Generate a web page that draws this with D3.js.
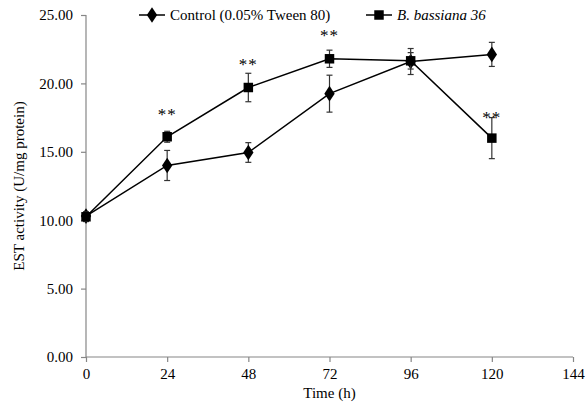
<!DOCTYPE html>
<html>
<head>
<meta charset="utf-8">
<script src="https://cdn.jsdelivr.net/npm/d3@7"></script>
<style>
  body { margin: 0; background: #fff; }
</style>
</head>
<body>
<svg id="chart" width="587" height="406"></svg>
<script>
// time points (h)
const hours = [0, 24, 48, 72, 96, 120];
const controlMean = [10.3, 14.0, 14.95, 19.25, 21.6, 22.12];
const controlErr = [0.3, 1.1, 0.72, 1.35, 0.95, 0.88];
const bassianaMean = [10.25, 16.1, 19.7, 21.8, 21.65, 16.0];
const bassianaErr = [0.35, 0.4, 1.04, 0.63, 0.6, 1.5];
// significance marks: hour and value at which "**" sits
const sigHours = [24, 48, 72, 120];
const sigValues = [17.3, 21.0, 23.1, 17.1];
const xTicks = [0, 24, 48, 72, 96, 120, 144];
const yTicks = [0, 5, 10, 15, 20, 25];

const svg = d3.select('#chart');
const margin = { left: 86, right: 14, top: 15, bottom: 49 };
const width = 587, height = 406;
const serif = 'Liberation Serif, DejaVu Serif, serif';

const x = d3.scaleLinear().domain([0, 144]).range([margin.left, width - margin.right]);
const y = d3.scaleLinear().domain([0, 25]).range([height - margin.bottom, margin.top]);

const axisColor = '#868686';

// axes
const xAxis = svg.append('g')
  .attr('transform', `translate(0,${y(0)})`)
  .call(d3.axisBottom(x).tickValues(xTicks).tickSize(5).tickPadding(6));
const yAxis = svg.append('g')
  .attr('transform', `translate(${x(0)},0)`)
  .call(d3.axisLeft(y).tickValues(yTicks).tickFormat(d3.format('.2f')).tickSize(5).tickPadding(8));

[xAxis, yAxis].forEach(a => {
  a.attr('font-family', serif).attr('font-size', 15);
  a.select('.domain').attr('stroke', axisColor).attr('stroke-width', 1.2);
  a.selectAll('.tick line').attr('stroke', axisColor).attr('stroke-width', 1.2);
  a.selectAll('.tick text').attr('fill', '#000');
});
yAxis.select('.domain').attr('d', `M0,${y(25)}V${y(0)}`);
xAxis.select('.domain').attr('d', `M${x(0)},0H${x(144)}`);

// axis titles
svg.append('text')
  .attr('x', (x(0) + x(144)) / 2).attr('y', 398)
  .attr('text-anchor', 'middle').attr('font-size', 15).attr('font-family', serif)
  .text('Time (h)');
svg.append('text')
  .attr('transform', `translate(24,${(y(0) + y(25)) / 2}) rotate(-90)`)
  .attr('text-anchor', 'middle').attr('font-size', 15).attr('font-family', serif)
  .text('EST activity (U/mg protein)');

const line = d3.line().x(d => x(d.h)).y(d => y(d.v));

function series(means, errs, shape) {
  const pts = hours.map((h, i) => ({ h, v: means[i], e: errs[i] }));
  const g = svg.append('g');
  // error bars
  const eb = g.append('g').attr('stroke', '#333').attr('stroke-width', 1.2);
  pts.forEach(p => {
    eb.append('line').attr('x1', x(p.h)).attr('x2', x(p.h)).attr('y1', y(p.v - p.e)).attr('y2', y(p.v + p.e));
    eb.append('line').attr('x1', x(p.h) - 3).attr('x2', x(p.h) + 3).attr('y1', y(p.v - p.e)).attr('y2', y(p.v - p.e));
    eb.append('line').attr('x1', x(p.h) - 3).attr('x2', x(p.h) + 3).attr('y1', y(p.v + p.e)).attr('y2', y(p.v + p.e));
  });
  g.append('path').datum(pts).attr('d', line)
    .attr('fill', 'none').attr('stroke', '#000').attr('stroke-width', 1.5);
  const sym = d3.symbol().type(shape).size(shape === d3.symbolDiamond ? 70 : 90);
  g.selectAll('path.m').data(pts).enter().append('path')
    .attr('class', 'm')
    .attr('transform', d => `translate(${x(d.h)},${y(d.v)})` + (shape === d3.symbolDiamond ? ' scale(1.15,1)' : ''))
    .attr('d', sym).attr('fill', '#000');
}

series(controlMean, controlErr, d3.symbolDiamond);
series(bassianaMean, bassianaErr, d3.symbolSquare);

// significance asterisks
svg.append('g').selectAll('text').data(sigHours).enter().append('text')
  .attr('x', d => x(d)).attr('y', (d, i) => y(sigValues[i]))
  .attr('text-anchor', 'middle').attr('font-size', 17).attr('font-family', serif)
  .attr('letter-spacing', 1)
  .text('**');

// legend
const legend = svg.append('g');
const legendItems = [
  { label: 'Control (0.05% Tween 80)', shape: d3.symbolDiamond, x0: 139, italic: false },
  { label: 'B. bassiana 36', shape: d3.symbolSquare, x0: 366, italic: true }
];
legendItems.forEach(it => {
  const ly = 15;
  legend.append('line').attr('x1', it.x0).attr('x2', it.x0 + 26).attr('y1', ly).attr('y2', ly)
    .attr('stroke', '#000').attr('stroke-width', 1.5);
  legend.append('path')
    .attr('transform', `translate(${it.x0 + 13},${ly})` + (it.shape === d3.symbolDiamond ? ' scale(1.15,1)' : ''))
    .attr('d', d3.symbol().type(it.shape).size(it.shape === d3.symbolDiamond ? 70 : 90)).attr('fill', '#000');
  legend.append('text').attr('x', it.x0 + 31).attr('y', ly + 5)
    .attr('font-size', 15).attr('font-family', serif).attr('font-style', it.italic ? 'italic' : 'normal')
    .text(it.label);
});
</script>
</body>
</html>
